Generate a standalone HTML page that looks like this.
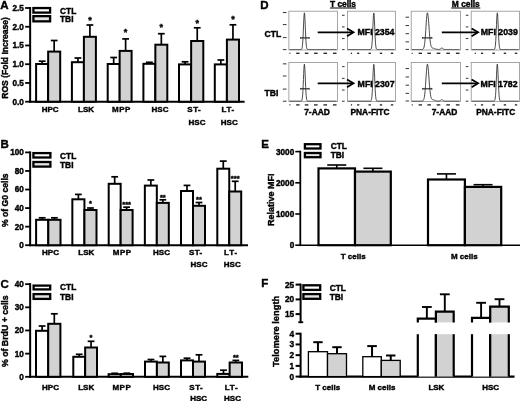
<!DOCTYPE html>
<html><head><meta charset="utf-8"><title>Figure</title>
<style>
html,body{margin:0;padding:0;background:#fff;}
svg{display:block;font-family:"Liberation Sans", sans-serif;}
</style></head><body>
<svg width="520" height="401" viewBox="0 0 520 401" style="font-family:'Liberation Sans',sans-serif;fill:#000">
<defs><filter id="soft" x="0" y="0" width="520" height="401" filterUnits="userSpaceOnUse"><feGaussianBlur stdDeviation="0.4"/></filter></defs>
<rect x="0" y="0" width="520" height="401" fill="#ffffff"/>
<g filter="url(#soft)">
<text x="0.30" y="8.60" font-size="11.5" text-anchor="start" font-weight="bold" stroke="#000" stroke-width="0.4" >A</text>
<line x1="30.15" y1="7.00" x2="30.15" y2="102.70" stroke="#000" stroke-width="2.0" stroke-linecap="butt"/>
<line x1="25.15" y1="101.70" x2="30.15" y2="101.70" stroke="#000" stroke-width="1.8" stroke-linecap="butt"/>
<text x="23.80" y="104.65" font-size="8.2" text-anchor="end" font-weight="bold" stroke="#000" stroke-width="0.4" >0.0</text>
<line x1="25.15" y1="82.96" x2="30.15" y2="82.96" stroke="#000" stroke-width="1.8" stroke-linecap="butt"/>
<text x="23.80" y="85.91" font-size="8.2" text-anchor="end" font-weight="bold" stroke="#000" stroke-width="0.4" >0.5</text>
<line x1="25.15" y1="64.22" x2="30.15" y2="64.22" stroke="#000" stroke-width="1.8" stroke-linecap="butt"/>
<text x="23.80" y="67.17" font-size="8.2" text-anchor="end" font-weight="bold" stroke="#000" stroke-width="0.4" >1.0</text>
<line x1="25.15" y1="45.48" x2="30.15" y2="45.48" stroke="#000" stroke-width="1.8" stroke-linecap="butt"/>
<text x="23.80" y="48.43" font-size="8.2" text-anchor="end" font-weight="bold" stroke="#000" stroke-width="0.4" >1.5</text>
<line x1="25.15" y1="26.74" x2="30.15" y2="26.74" stroke="#000" stroke-width="1.8" stroke-linecap="butt"/>
<text x="23.80" y="29.69" font-size="8.2" text-anchor="end" font-weight="bold" stroke="#000" stroke-width="0.4" >2.0</text>
<line x1="25.15" y1="8.00" x2="30.15" y2="8.00" stroke="#000" stroke-width="1.8" stroke-linecap="butt"/>
<text x="23.80" y="10.95" font-size="8.2" text-anchor="end" font-weight="bold" stroke="#000" stroke-width="0.4" >2.5</text>
<line x1="29.15" y1="101.70" x2="244.60" y2="101.70" stroke="#000" stroke-width="2.0" stroke-linecap="butt"/>
<text transform="translate(8.20,57.90) rotate(-90)" font-size="8.55" text-anchor="middle" font-weight="bold" stroke="#000" stroke-width="0.4">ROS (Fold Increase)</text>
<rect x="33.40" y="8.05" width="16.70" height="4.55" fill="#fff" stroke="#000" stroke-width="2.3"/>
<rect x="33.40" y="16.15" width="16.70" height="5.20" fill="#e4e4e4" stroke="#000" stroke-width="2.3"/>
<text x="60.00" y="13.60" font-size="8.4" text-anchor="start" font-weight="bold" stroke="#000" stroke-width="0.4" >CTL</text>
<text x="60.00" y="22.30" font-size="8.4" text-anchor="start" font-weight="bold" stroke="#000" stroke-width="0.4" >TBI</text>
<line x1="42.12" y1="64.00" x2="42.12" y2="61.20" stroke="#000" stroke-width="1.7" stroke-linecap="butt"/>
<line x1="38.73" y1="61.20" x2="45.52" y2="61.20" stroke="#000" stroke-width="1.7" stroke-linecap="butt"/>
<rect x="36.10" y="64.00" width="12.05" height="37.70" fill="#fff" stroke="#000" stroke-width="2.0"/>
<line x1="54.18" y1="51.60" x2="54.18" y2="40.50" stroke="#000" stroke-width="1.7" stroke-linecap="butt"/>
<line x1="50.78" y1="40.50" x2="57.58" y2="40.50" stroke="#000" stroke-width="1.7" stroke-linecap="butt"/>
<rect x="48.15" y="51.60" width="12.05" height="50.10" fill="#d2d2d2" stroke="#000" stroke-width="2.0"/>
<line x1="77.90" y1="62.20" x2="77.90" y2="58.00" stroke="#000" stroke-width="1.7" stroke-linecap="butt"/>
<line x1="74.50" y1="58.00" x2="81.30" y2="58.00" stroke="#000" stroke-width="1.7" stroke-linecap="butt"/>
<rect x="71.90" y="62.20" width="12.00" height="39.50" fill="#fff" stroke="#000" stroke-width="2.0"/>
<line x1="89.90" y1="36.80" x2="89.90" y2="25.00" stroke="#000" stroke-width="1.7" stroke-linecap="butt"/>
<line x1="86.50" y1="25.00" x2="93.30" y2="25.00" stroke="#000" stroke-width="1.7" stroke-linecap="butt"/>
<rect x="83.90" y="36.80" width="12.00" height="64.90" fill="#d2d2d2" stroke="#000" stroke-width="2.0"/>
<text x="89.90" y="23.10" font-size="9" text-anchor="middle" font-weight="bold" stroke="#000" stroke-width="0.4" >*</text>
<line x1="113.68" y1="64.00" x2="113.68" y2="57.50" stroke="#000" stroke-width="1.7" stroke-linecap="butt"/>
<line x1="110.28" y1="57.50" x2="117.08" y2="57.50" stroke="#000" stroke-width="1.7" stroke-linecap="butt"/>
<rect x="107.70" y="64.00" width="11.95" height="37.70" fill="#fff" stroke="#000" stroke-width="2.0"/>
<line x1="125.62" y1="50.90" x2="125.62" y2="38.90" stroke="#000" stroke-width="1.7" stroke-linecap="butt"/>
<line x1="122.22" y1="38.90" x2="129.03" y2="38.90" stroke="#000" stroke-width="1.7" stroke-linecap="butt"/>
<rect x="119.65" y="50.90" width="11.95" height="50.80" fill="#d2d2d2" stroke="#000" stroke-width="2.0"/>
<text x="125.62" y="35.10" font-size="9" text-anchor="middle" font-weight="bold" stroke="#000" stroke-width="0.4" >*</text>
<line x1="149.38" y1="63.80" x2="149.38" y2="62.30" stroke="#000" stroke-width="1.7" stroke-linecap="butt"/>
<line x1="145.97" y1="62.30" x2="152.78" y2="62.30" stroke="#000" stroke-width="1.7" stroke-linecap="butt"/>
<rect x="143.40" y="63.80" width="11.95" height="37.90" fill="#fff" stroke="#000" stroke-width="2.0"/>
<line x1="161.33" y1="44.70" x2="161.33" y2="33.70" stroke="#000" stroke-width="1.7" stroke-linecap="butt"/>
<line x1="157.93" y1="33.70" x2="164.73" y2="33.70" stroke="#000" stroke-width="1.7" stroke-linecap="butt"/>
<rect x="155.35" y="44.70" width="11.95" height="57.00" fill="#d2d2d2" stroke="#000" stroke-width="2.0"/>
<text x="161.33" y="30.10" font-size="9" text-anchor="middle" font-weight="bold" stroke="#000" stroke-width="0.4" >*</text>
<line x1="185.07" y1="64.40" x2="185.07" y2="61.80" stroke="#000" stroke-width="1.7" stroke-linecap="butt"/>
<line x1="181.67" y1="61.80" x2="188.47" y2="61.80" stroke="#000" stroke-width="1.7" stroke-linecap="butt"/>
<rect x="179.00" y="64.40" width="12.15" height="37.30" fill="#fff" stroke="#000" stroke-width="2.0"/>
<line x1="197.23" y1="41.00" x2="197.23" y2="27.80" stroke="#000" stroke-width="1.7" stroke-linecap="butt"/>
<line x1="193.83" y1="27.80" x2="200.63" y2="27.80" stroke="#000" stroke-width="1.7" stroke-linecap="butt"/>
<rect x="191.15" y="41.00" width="12.15" height="60.70" fill="#d2d2d2" stroke="#000" stroke-width="2.0"/>
<text x="197.23" y="25.60" font-size="9" text-anchor="middle" font-weight="bold" stroke="#000" stroke-width="0.4" >*</text>
<line x1="220.85" y1="64.40" x2="220.85" y2="60.00" stroke="#000" stroke-width="1.7" stroke-linecap="butt"/>
<line x1="217.45" y1="60.00" x2="224.25" y2="60.00" stroke="#000" stroke-width="1.7" stroke-linecap="butt"/>
<rect x="214.80" y="64.40" width="12.10" height="37.30" fill="#fff" stroke="#000" stroke-width="2.0"/>
<line x1="232.95" y1="39.60" x2="232.95" y2="24.80" stroke="#000" stroke-width="1.7" stroke-linecap="butt"/>
<line x1="229.55" y1="24.80" x2="236.35" y2="24.80" stroke="#000" stroke-width="1.7" stroke-linecap="butt"/>
<rect x="226.90" y="39.60" width="12.10" height="62.10" fill="#d2d2d2" stroke="#000" stroke-width="2.0"/>
<text x="232.95" y="21.60" font-size="9" text-anchor="middle" font-weight="bold" stroke="#000" stroke-width="0.4" >*</text>
<text x="50.20" y="111.60" font-size="8.0" text-anchor="middle" font-weight="bold" stroke="#000" stroke-width="0.4" >HPC</text>
<text x="86.00" y="111.60" font-size="8.0" text-anchor="middle" font-weight="bold" stroke="#000" stroke-width="0.4" >LSK</text>
<text x="121.50" y="111.60" font-size="8.0" text-anchor="middle" font-weight="bold" stroke="#000" stroke-width="0.4" letter-spacing="0.55">MPP</text>
<text x="160.00" y="111.60" font-size="8.0" text-anchor="middle" font-weight="bold" stroke="#000" stroke-width="0.4" >HSC</text>
<text x="194.30" y="111.60" font-size="8.0" text-anchor="middle" font-weight="bold" stroke="#000" stroke-width="0.4" letter-spacing="0.5">ST-</text>
<text x="197.00" y="124.80" font-size="8.0" text-anchor="middle" font-weight="bold" stroke="#000" stroke-width="0.4" >HSC</text>
<text x="228.20" y="111.60" font-size="8.0" text-anchor="middle" font-weight="bold" stroke="#000" stroke-width="0.4" letter-spacing="0.7">LT-</text>
<text x="229.30" y="124.80" font-size="8.0" text-anchor="middle" font-weight="bold" stroke="#000" stroke-width="0.4" >HSC</text>
<text x="0.50" y="148.30" font-size="11.5" text-anchor="start" font-weight="bold" stroke="#000" stroke-width="0.4" >B</text>
<line x1="30.15" y1="151.40" x2="30.15" y2="246.20" stroke="#000" stroke-width="2.0" stroke-linecap="butt"/>
<line x1="25.15" y1="245.20" x2="30.15" y2="245.20" stroke="#000" stroke-width="1.8" stroke-linecap="butt"/>
<text x="23.80" y="248.15" font-size="8.2" text-anchor="end" font-weight="bold" stroke="#000" stroke-width="0.4" >0</text>
<line x1="25.15" y1="226.64" x2="30.15" y2="226.64" stroke="#000" stroke-width="1.8" stroke-linecap="butt"/>
<text x="23.80" y="229.59" font-size="8.2" text-anchor="end" font-weight="bold" stroke="#000" stroke-width="0.4" >20</text>
<line x1="25.15" y1="208.08" x2="30.15" y2="208.08" stroke="#000" stroke-width="1.8" stroke-linecap="butt"/>
<text x="23.80" y="211.03" font-size="8.2" text-anchor="end" font-weight="bold" stroke="#000" stroke-width="0.4" >40</text>
<line x1="25.15" y1="189.52" x2="30.15" y2="189.52" stroke="#000" stroke-width="1.8" stroke-linecap="butt"/>
<text x="23.80" y="192.47" font-size="8.2" text-anchor="end" font-weight="bold" stroke="#000" stroke-width="0.4" >60</text>
<line x1="25.15" y1="170.96" x2="30.15" y2="170.96" stroke="#000" stroke-width="1.8" stroke-linecap="butt"/>
<text x="23.80" y="173.91" font-size="8.2" text-anchor="end" font-weight="bold" stroke="#000" stroke-width="0.4" >80</text>
<line x1="25.15" y1="152.40" x2="30.15" y2="152.40" stroke="#000" stroke-width="1.8" stroke-linecap="butt"/>
<text x="23.80" y="155.35" font-size="8.2" text-anchor="end" font-weight="bold" stroke="#000" stroke-width="0.4" >100</text>
<line x1="29.15" y1="245.20" x2="248.00" y2="245.20" stroke="#000" stroke-width="2.0" stroke-linecap="butt"/>
<text transform="translate(8.30,200.20) rotate(-90)" font-size="8.6" text-anchor="middle" font-weight="bold" stroke="#000" stroke-width="0.4">% of G0 cells</text>
<rect x="33.40" y="153.10" width="17.00" height="4.40" fill="#fff" stroke="#000" stroke-width="2.3"/>
<rect x="33.40" y="162.00" width="17.00" height="4.60" fill="#e4e4e4" stroke="#000" stroke-width="2.3"/>
<text x="60.00" y="158.50" font-size="8.4" text-anchor="start" font-weight="bold" stroke="#000" stroke-width="0.4" >CTL</text>
<text x="60.00" y="167.55" font-size="8.4" text-anchor="start" font-weight="bold" stroke="#000" stroke-width="0.4" >TBI</text>
<line x1="42.20" y1="219.80" x2="42.20" y2="217.80" stroke="#000" stroke-width="1.7" stroke-linecap="butt"/>
<line x1="38.80" y1="217.80" x2="45.60" y2="217.80" stroke="#000" stroke-width="1.7" stroke-linecap="butt"/>
<rect x="36.10" y="219.80" width="12.20" height="25.40" fill="#fff" stroke="#000" stroke-width="2.0"/>
<line x1="54.40" y1="219.80" x2="54.40" y2="217.80" stroke="#000" stroke-width="1.7" stroke-linecap="butt"/>
<line x1="51.00" y1="217.80" x2="57.80" y2="217.80" stroke="#000" stroke-width="1.7" stroke-linecap="butt"/>
<rect x="48.30" y="219.80" width="12.20" height="25.40" fill="#d2d2d2" stroke="#000" stroke-width="2.0"/>
<line x1="78.39" y1="199.30" x2="78.39" y2="194.40" stroke="#000" stroke-width="1.7" stroke-linecap="butt"/>
<line x1="74.99" y1="194.40" x2="81.79" y2="194.40" stroke="#000" stroke-width="1.7" stroke-linecap="butt"/>
<rect x="72.35" y="199.30" width="12.08" height="45.90" fill="#fff" stroke="#000" stroke-width="2.0"/>
<line x1="90.46" y1="210.00" x2="90.46" y2="208.00" stroke="#000" stroke-width="1.7" stroke-linecap="butt"/>
<line x1="87.06" y1="208.00" x2="93.86" y2="208.00" stroke="#000" stroke-width="1.7" stroke-linecap="butt"/>
<rect x="84.42" y="210.00" width="12.08" height="35.20" fill="#d2d2d2" stroke="#000" stroke-width="2.0"/>
<text x="90.46" y="205.60" font-size="7.5" text-anchor="middle" font-weight="bold" stroke="#000" stroke-width="0.4" >*</text>
<line x1="114.68" y1="183.80" x2="114.68" y2="176.80" stroke="#000" stroke-width="1.7" stroke-linecap="butt"/>
<line x1="111.28" y1="176.80" x2="118.08" y2="176.80" stroke="#000" stroke-width="1.7" stroke-linecap="butt"/>
<rect x="108.70" y="183.80" width="11.95" height="61.40" fill="#fff" stroke="#000" stroke-width="2.0"/>
<line x1="126.62" y1="210.00" x2="126.62" y2="207.20" stroke="#000" stroke-width="1.7" stroke-linecap="butt"/>
<line x1="123.22" y1="207.20" x2="130.03" y2="207.20" stroke="#000" stroke-width="1.7" stroke-linecap="butt"/>
<rect x="120.65" y="210.00" width="11.95" height="35.20" fill="#d2d2d2" stroke="#000" stroke-width="2.0"/>
<text x="126.62" y="206.60" font-size="7.5" text-anchor="middle" font-weight="bold" stroke="#000" stroke-width="0.4" >***</text>
<line x1="150.84" y1="185.60" x2="150.84" y2="180.00" stroke="#000" stroke-width="1.7" stroke-linecap="butt"/>
<line x1="147.44" y1="180.00" x2="154.24" y2="180.00" stroke="#000" stroke-width="1.7" stroke-linecap="butt"/>
<rect x="144.85" y="185.60" width="11.97" height="59.60" fill="#fff" stroke="#000" stroke-width="2.0"/>
<line x1="162.81" y1="202.90" x2="162.81" y2="199.80" stroke="#000" stroke-width="1.7" stroke-linecap="butt"/>
<line x1="159.41" y1="199.80" x2="166.21" y2="199.80" stroke="#000" stroke-width="1.7" stroke-linecap="butt"/>
<rect x="156.82" y="202.90" width="11.98" height="42.30" fill="#d2d2d2" stroke="#000" stroke-width="2.0"/>
<text x="162.81" y="199.60" font-size="7.5" text-anchor="middle" font-weight="bold" stroke="#000" stroke-width="0.4" >**</text>
<line x1="187.00" y1="191.00" x2="187.00" y2="185.40" stroke="#000" stroke-width="1.7" stroke-linecap="butt"/>
<line x1="183.60" y1="185.40" x2="190.40" y2="185.40" stroke="#000" stroke-width="1.7" stroke-linecap="butt"/>
<rect x="181.00" y="191.00" width="12.00" height="54.20" fill="#fff" stroke="#000" stroke-width="2.0"/>
<line x1="199.00" y1="205.80" x2="199.00" y2="202.50" stroke="#000" stroke-width="1.7" stroke-linecap="butt"/>
<line x1="195.60" y1="202.50" x2="202.40" y2="202.50" stroke="#000" stroke-width="1.7" stroke-linecap="butt"/>
<rect x="193.00" y="205.80" width="12.00" height="39.40" fill="#d2d2d2" stroke="#000" stroke-width="2.0"/>
<text x="199.00" y="201.60" font-size="7.5" text-anchor="middle" font-weight="bold" stroke="#000" stroke-width="0.4" >**</text>
<line x1="223.28" y1="168.70" x2="223.28" y2="161.10" stroke="#000" stroke-width="1.7" stroke-linecap="butt"/>
<line x1="219.88" y1="161.10" x2="226.68" y2="161.10" stroke="#000" stroke-width="1.7" stroke-linecap="butt"/>
<rect x="217.30" y="168.70" width="11.95" height="76.50" fill="#fff" stroke="#000" stroke-width="2.0"/>
<line x1="235.22" y1="191.50" x2="235.22" y2="181.30" stroke="#000" stroke-width="1.7" stroke-linecap="butt"/>
<line x1="231.82" y1="181.30" x2="238.62" y2="181.30" stroke="#000" stroke-width="1.7" stroke-linecap="butt"/>
<rect x="229.25" y="191.50" width="11.95" height="53.70" fill="#d2d2d2" stroke="#000" stroke-width="2.0"/>
<text x="235.22" y="181.20" font-size="7.5" text-anchor="middle" font-weight="bold" stroke="#000" stroke-width="0.4" >***</text>
<text x="50.50" y="255.00" font-size="8.0" text-anchor="middle" font-weight="bold" stroke="#000" stroke-width="0.4" >HPC</text>
<text x="86.30" y="255.00" font-size="8.0" text-anchor="middle" font-weight="bold" stroke="#000" stroke-width="0.4" >LSK</text>
<text x="122.20" y="255.00" font-size="8.0" text-anchor="middle" font-weight="bold" stroke="#000" stroke-width="0.4" letter-spacing="0.55">MPP</text>
<text x="161.50" y="255.00" font-size="8.0" text-anchor="middle" font-weight="bold" stroke="#000" stroke-width="0.4" >HSC</text>
<text x="195.70" y="255.00" font-size="8.0" text-anchor="middle" font-weight="bold" stroke="#000" stroke-width="0.4" letter-spacing="0.3">ST-</text>
<text x="199.00" y="266.50" font-size="8.0" text-anchor="middle" font-weight="bold" stroke="#000" stroke-width="0.4" >HSC</text>
<text x="231.00" y="255.00" font-size="8.0" text-anchor="middle" font-weight="bold" stroke="#000" stroke-width="0.4" letter-spacing="0.8">LT-</text>
<text x="232.30" y="266.50" font-size="8.0" text-anchor="middle" font-weight="bold" stroke="#000" stroke-width="0.4" >HSC</text>
<text x="0.40" y="287.60" font-size="11.5" text-anchor="start" font-weight="bold" stroke="#000" stroke-width="0.4" >C</text>
<line x1="30.15" y1="283.16" x2="30.15" y2="377.80" stroke="#000" stroke-width="2.0" stroke-linecap="butt"/>
<line x1="25.15" y1="376.80" x2="30.15" y2="376.80" stroke="#000" stroke-width="1.8" stroke-linecap="butt"/>
<text x="23.80" y="379.75" font-size="8.2" text-anchor="end" font-weight="bold" stroke="#000" stroke-width="0.4" >0</text>
<line x1="25.15" y1="353.64" x2="30.15" y2="353.64" stroke="#000" stroke-width="1.8" stroke-linecap="butt"/>
<text x="23.80" y="356.59" font-size="8.2" text-anchor="end" font-weight="bold" stroke="#000" stroke-width="0.4" >10</text>
<line x1="25.15" y1="330.48" x2="30.15" y2="330.48" stroke="#000" stroke-width="1.8" stroke-linecap="butt"/>
<text x="23.80" y="333.43" font-size="8.2" text-anchor="end" font-weight="bold" stroke="#000" stroke-width="0.4" >20</text>
<line x1="25.15" y1="307.32" x2="30.15" y2="307.32" stroke="#000" stroke-width="1.8" stroke-linecap="butt"/>
<text x="23.80" y="310.27" font-size="8.2" text-anchor="end" font-weight="bold" stroke="#000" stroke-width="0.4" >30</text>
<line x1="25.15" y1="284.16" x2="30.15" y2="284.16" stroke="#000" stroke-width="1.8" stroke-linecap="butt"/>
<text x="23.80" y="287.11" font-size="8.2" text-anchor="end" font-weight="bold" stroke="#000" stroke-width="0.4" >40</text>
<line x1="29.15" y1="376.80" x2="248.30" y2="376.80" stroke="#000" stroke-width="2.0" stroke-linecap="butt"/>
<text transform="translate(8.30,331.20) rotate(-90)" font-size="8.75" text-anchor="middle" font-weight="bold" stroke="#000" stroke-width="0.4">% of BrdU + cells</text>
<rect x="33.60" y="285.60" width="16.60" height="3.80" fill="#fff" stroke="#000" stroke-width="2.3"/>
<rect x="33.60" y="294.10" width="16.60" height="4.80" fill="#e4e4e4" stroke="#000" stroke-width="2.3"/>
<text x="60.00" y="290.40" font-size="8.4" text-anchor="start" font-weight="bold" stroke="#000" stroke-width="0.4" >CTL</text>
<text x="60.00" y="299.85" font-size="8.4" text-anchor="start" font-weight="bold" stroke="#000" stroke-width="0.4" >TBI</text>
<line x1="42.10" y1="330.80" x2="42.10" y2="326.00" stroke="#000" stroke-width="1.7" stroke-linecap="butt"/>
<line x1="38.70" y1="326.00" x2="45.50" y2="326.00" stroke="#000" stroke-width="1.7" stroke-linecap="butt"/>
<rect x="36.00" y="330.80" width="12.20" height="46.00" fill="#fff" stroke="#000" stroke-width="2.0"/>
<line x1="54.30" y1="323.80" x2="54.30" y2="313.80" stroke="#000" stroke-width="1.7" stroke-linecap="butt"/>
<line x1="50.90" y1="313.80" x2="57.70" y2="313.80" stroke="#000" stroke-width="1.7" stroke-linecap="butt"/>
<rect x="48.20" y="323.80" width="12.20" height="53.00" fill="#d2d2d2" stroke="#000" stroke-width="2.0"/>
<line x1="79.22" y1="356.80" x2="79.22" y2="354.30" stroke="#000" stroke-width="1.7" stroke-linecap="butt"/>
<line x1="75.82" y1="354.30" x2="82.62" y2="354.30" stroke="#000" stroke-width="1.7" stroke-linecap="butt"/>
<rect x="73.30" y="356.80" width="11.85" height="20.00" fill="#fff" stroke="#000" stroke-width="2.0"/>
<line x1="91.08" y1="347.50" x2="91.08" y2="341.30" stroke="#000" stroke-width="1.7" stroke-linecap="butt"/>
<line x1="87.67" y1="341.30" x2="94.48" y2="341.30" stroke="#000" stroke-width="1.7" stroke-linecap="butt"/>
<rect x="85.15" y="347.50" width="11.85" height="29.30" fill="#d2d2d2" stroke="#000" stroke-width="2.0"/>
<text x="91.08" y="340.00" font-size="7.5" text-anchor="middle" font-weight="bold" stroke="#000" stroke-width="0.4" >*</text>
<line x1="114.70" y1="374.20" x2="114.70" y2="373.30" stroke="#000" stroke-width="1.7" stroke-linecap="butt"/>
<line x1="111.30" y1="373.30" x2="118.10" y2="373.30" stroke="#000" stroke-width="1.7" stroke-linecap="butt"/>
<rect x="108.60" y="374.20" width="12.20" height="2.60" fill="#fff" stroke="#000" stroke-width="2.0"/>
<line x1="126.90" y1="374.00" x2="126.90" y2="373.20" stroke="#000" stroke-width="1.7" stroke-linecap="butt"/>
<line x1="123.50" y1="373.20" x2="130.30" y2="373.20" stroke="#000" stroke-width="1.7" stroke-linecap="butt"/>
<rect x="120.80" y="374.00" width="12.20" height="2.80" fill="#d2d2d2" stroke="#000" stroke-width="2.0"/>
<line x1="150.95" y1="361.60" x2="150.95" y2="359.50" stroke="#000" stroke-width="1.7" stroke-linecap="butt"/>
<line x1="147.55" y1="359.50" x2="154.35" y2="359.50" stroke="#000" stroke-width="1.7" stroke-linecap="butt"/>
<rect x="145.00" y="361.60" width="11.90" height="15.20" fill="#fff" stroke="#000" stroke-width="2.0"/>
<line x1="162.85" y1="362.50" x2="162.85" y2="356.40" stroke="#000" stroke-width="1.7" stroke-linecap="butt"/>
<line x1="159.45" y1="356.40" x2="166.25" y2="356.40" stroke="#000" stroke-width="1.7" stroke-linecap="butt"/>
<rect x="156.90" y="362.50" width="11.90" height="14.30" fill="#d2d2d2" stroke="#000" stroke-width="2.0"/>
<line x1="187.00" y1="360.40" x2="187.00" y2="358.20" stroke="#000" stroke-width="1.7" stroke-linecap="butt"/>
<line x1="183.60" y1="358.20" x2="190.40" y2="358.20" stroke="#000" stroke-width="1.7" stroke-linecap="butt"/>
<rect x="181.00" y="360.40" width="12.00" height="16.40" fill="#fff" stroke="#000" stroke-width="2.0"/>
<line x1="199.00" y1="361.60" x2="199.00" y2="354.80" stroke="#000" stroke-width="1.7" stroke-linecap="butt"/>
<line x1="195.60" y1="354.80" x2="202.40" y2="354.80" stroke="#000" stroke-width="1.7" stroke-linecap="butt"/>
<rect x="193.00" y="361.60" width="12.00" height="15.20" fill="#d2d2d2" stroke="#000" stroke-width="2.0"/>
<line x1="223.48" y1="373.90" x2="223.48" y2="370.20" stroke="#000" stroke-width="1.7" stroke-linecap="butt"/>
<line x1="220.08" y1="370.20" x2="226.88" y2="370.20" stroke="#000" stroke-width="1.7" stroke-linecap="butt"/>
<rect x="217.30" y="373.90" width="12.35" height="2.90" fill="#fff" stroke="#000" stroke-width="2.0"/>
<line x1="235.82" y1="362.50" x2="235.82" y2="360.40" stroke="#000" stroke-width="1.7" stroke-linecap="butt"/>
<line x1="232.42" y1="360.40" x2="239.22" y2="360.40" stroke="#000" stroke-width="1.7" stroke-linecap="butt"/>
<rect x="229.65" y="362.50" width="12.35" height="14.30" fill="#d2d2d2" stroke="#000" stroke-width="2.0"/>
<text x="235.82" y="360.00" font-size="7.5" text-anchor="middle" font-weight="bold" stroke="#000" stroke-width="0.4" >**</text>
<text x="50.50" y="389.70" font-size="8.0" text-anchor="middle" font-weight="bold" stroke="#000" stroke-width="0.4" >HPC</text>
<text x="86.20" y="389.70" font-size="8.0" text-anchor="middle" font-weight="bold" stroke="#000" stroke-width="0.4" >LSK</text>
<text x="121.90" y="389.70" font-size="8.0" text-anchor="middle" font-weight="bold" stroke="#000" stroke-width="0.4" letter-spacing="0.55">MPP</text>
<text x="161.50" y="389.70" font-size="8.0" text-anchor="middle" font-weight="bold" stroke="#000" stroke-width="0.4" >HSC</text>
<text x="196.30" y="389.70" font-size="8.0" text-anchor="middle" font-weight="bold" stroke="#000" stroke-width="0.4" letter-spacing="0.5">ST-</text>
<text x="198.70" y="400.50" font-size="8.0" text-anchor="middle" font-weight="bold" stroke="#000" stroke-width="0.4" >HSC</text>
<text x="231.60" y="389.70" font-size="8.0" text-anchor="middle" font-weight="bold" stroke="#000" stroke-width="0.4" letter-spacing="0.8">LT-</text>
<text x="232.50" y="400.50" font-size="8.0" text-anchor="middle" font-weight="bold" stroke="#000" stroke-width="0.4" >HSC</text>
<text x="260.30" y="8.80" font-size="11.5" text-anchor="start" font-weight="bold" stroke="#000" stroke-width="0.4" >D</text>
<text x="343.00" y="6.80" font-size="8.4" text-anchor="middle" font-weight="bold" stroke="#000" stroke-width="0.4" >T cells</text>
<line x1="330.00" y1="8.00" x2="356.00" y2="8.00" stroke="#000" stroke-width="1.0" stroke-linecap="butt"/>
<text x="465.80" y="6.80" font-size="8.4" text-anchor="middle" font-weight="bold" stroke="#000" stroke-width="0.4" >M cells</text>
<line x1="451.20" y1="8.00" x2="480.30" y2="8.00" stroke="#000" stroke-width="1.0" stroke-linecap="butt"/>
<text x="264.50" y="36.80" font-size="8.6" text-anchor="start" font-weight="bold" stroke="#000" stroke-width="0.4" >CTL</text>
<text x="264.50" y="96.00" font-size="8.6" text-anchor="start" font-weight="bold" stroke="#000" stroke-width="0.4" >TBI</text>
<rect x="288.90" y="11.20" width="48.50" height="38.80" fill="#fff" stroke="#909090" stroke-width="0.8"/>
<polyline points="289.70,49.50 289.95,49.50 290.20,49.50 290.45,49.50 290.70,49.50 290.95,49.50 291.20,49.50 291.45,49.50 291.70,49.50 291.95,49.50 292.20,49.50 292.45,49.50 292.70,49.50 292.95,49.50 293.20,49.50 293.45,49.50 293.70,49.50 293.95,49.50 294.20,49.50 294.45,49.50 294.70,49.50 294.95,49.50 295.20,49.50 295.45,49.50 295.70,49.50 295.95,49.50 296.20,49.50 296.45,49.50 296.70,49.50 296.95,49.50 297.20,49.50 297.45,49.50 297.70,49.50 297.95,49.50 298.20,49.50 298.45,49.50 298.70,49.50 298.95,49.50 299.20,49.50 299.45,49.50 299.70,49.50 299.95,49.50 300.20,49.50 300.45,49.50 300.70,49.49 300.95,49.47 301.20,49.41 301.45,49.29 301.70,49.01 301.95,48.44 302.20,47.40 302.45,45.62 302.70,42.84 302.95,38.90 303.20,33.82 303.45,27.97 303.70,22.02 303.95,16.94 304.20,13.66 304.45,12.85 304.70,14.70 304.95,18.81 305.20,24.35 305.45,30.37 305.70,35.98 305.95,40.62 306.20,44.09 306.45,46.43 306.70,47.89 306.95,48.71 307.20,49.14 307.45,49.35 307.70,49.44 307.95,49.48 308.20,49.49 308.45,49.50 308.70,49.50 308.95,49.50 309.20,49.50 309.45,49.50 309.70,49.50 309.95,49.50 310.20,49.50 310.45,49.50 310.70,49.50 310.95,49.50 311.20,49.50 311.45,49.50 311.70,49.50 311.95,49.50 312.20,49.50 312.45,49.50 312.70,49.50 312.95,49.50 313.20,49.50 313.45,49.50 313.70,49.50 313.95,49.50 314.20,49.50 314.45,49.50 314.70,49.50 314.95,49.50 315.20,49.50 315.45,49.50 315.70,49.50 315.95,49.50 316.20,49.50 316.45,49.50 316.70,49.50 316.95,49.50 317.20,49.50 317.45,49.50 317.70,49.50 317.95,49.50 318.20,49.50 318.45,49.50 318.70,49.50 318.95,49.50 319.20,49.50 319.45,49.50 319.70,49.50 319.95,49.50 320.20,49.50 320.45,49.50 320.70,49.50 320.95,49.50 321.20,49.50 321.45,49.50 321.70,49.50 321.95,49.50 322.20,49.50 322.45,49.50 322.70,49.50 322.95,49.50 323.20,49.50 323.45,49.50 323.70,49.50 323.95,49.50 324.20,49.50 324.45,49.50 324.70,49.50 324.95,49.50 325.20,49.50 325.45,49.50 325.70,49.50 325.95,49.50 326.20,49.50 326.45,49.50 326.70,49.50 326.95,49.50 327.20,49.50 327.45,49.50 327.70,49.50 327.95,49.50 328.20,49.50 328.45,49.50 328.70,49.50 328.95,49.50 329.20,49.50 329.45,49.50 329.70,49.50 329.95,49.50 330.20,49.50 330.45,49.50 330.70,49.50 330.95,49.50 331.20,49.50 331.45,49.50 331.70,49.50 331.95,49.50 332.20,49.50 332.45,49.50 332.70,49.50 332.95,49.50 333.20,49.50 333.45,49.50 333.70,49.50 333.95,49.50 334.20,49.50 334.45,49.50 334.70,49.50 334.95,49.50 335.20,49.50 335.45,49.50 335.70,49.50 335.95,49.50 336.20,49.50 336.45,49.50" fill="none" stroke="#2a2a2a" stroke-width="0.85" stroke-linejoin="round"/>
<line x1="300.60" y1="37.90" x2="309.20" y2="37.90" stroke="#1a1a1a" stroke-width="1.1" stroke-linecap="butt"/>
<line x1="300.60" y1="37.00" x2="300.60" y2="38.80" stroke="#1a1a1a" stroke-width="0.8" stroke-linecap="butt"/>
<line x1="309.20" y1="37.00" x2="309.20" y2="38.80" stroke="#1a1a1a" stroke-width="0.8" stroke-linecap="butt"/>
<line x1="282.90" y1="12.56" x2="286.50" y2="12.56" stroke="#2a2a2a" stroke-width="0.95" stroke-linecap="butt"/>
<line x1="282.90" y1="24.59" x2="286.50" y2="24.59" stroke="#2a2a2a" stroke-width="0.95" stroke-linecap="butt"/>
<line x1="282.90" y1="37.58" x2="286.50" y2="37.58" stroke="#2a2a2a" stroke-width="0.95" stroke-linecap="butt"/>
<line x1="282.90" y1="49.61" x2="286.50" y2="49.61" stroke="#2a2a2a" stroke-width="0.95" stroke-linecap="butt"/>
<line x1="289.37" y1="53.30" x2="290.37" y2="53.30" stroke="#2a2a2a" stroke-width="1.35" stroke-linecap="butt"/>
<line x1="296.17" y1="53.30" x2="299.57" y2="53.30" stroke="#2a2a2a" stroke-width="1.35" stroke-linecap="butt"/>
<line x1="304.80" y1="53.30" x2="308.40" y2="53.30" stroke="#2a2a2a" stroke-width="1.35" stroke-linecap="butt"/>
<line x1="314.02" y1="53.30" x2="317.62" y2="53.30" stroke="#2a2a2a" stroke-width="1.35" stroke-linecap="butt"/>
<line x1="323.47" y1="53.30" x2="327.07" y2="53.30" stroke="#2a2a2a" stroke-width="1.35" stroke-linecap="butt"/>
<line x1="332.93" y1="53.30" x2="336.53" y2="53.30" stroke="#2a2a2a" stroke-width="1.35" stroke-linecap="butt"/>
<rect x="347.40" y="11.20" width="48.00" height="38.80" fill="#fff" stroke="#909090" stroke-width="0.8"/>
<polyline points="348.20,49.50 348.45,49.50 348.70,49.50 348.95,49.50 349.20,49.50 349.45,49.50 349.70,49.50 349.95,49.50 350.20,49.50 350.45,49.50 350.70,49.50 350.95,49.50 351.20,49.50 351.45,49.50 351.70,49.50 351.95,49.50 352.20,49.50 352.45,49.50 352.70,49.50 352.95,49.50 353.20,49.50 353.45,49.50 353.70,49.50 353.95,49.50 354.20,49.50 354.45,49.50 354.70,49.50 354.95,49.50 355.20,49.50 355.45,49.50 355.70,49.50 355.95,49.50 356.20,49.50 356.45,49.50 356.70,49.50 356.95,49.50 357.20,49.50 357.45,49.50 357.70,49.50 357.95,49.50 358.20,49.50 358.45,49.50 358.70,49.50 358.95,49.50 359.20,49.50 359.45,49.50 359.70,49.50 359.95,49.50 360.20,49.50 360.45,49.50 360.70,49.50 360.95,49.50 361.20,49.50 361.45,49.50 361.70,49.50 361.95,49.50 362.20,49.50 362.45,49.50 362.70,49.50 362.95,49.50 363.20,49.50 363.45,49.50 363.70,49.50 363.95,49.50 364.20,49.50 364.45,49.50 364.70,49.50 364.95,49.50 365.20,49.50 365.45,49.50 365.70,49.50 365.95,49.50 366.20,49.50 366.45,49.50 366.70,49.50 366.95,49.50 367.20,49.50 367.45,49.50 367.70,49.50 367.95,49.50 368.20,49.50 368.45,49.50 368.70,49.50 368.95,49.50 369.20,49.50 369.45,49.50 369.70,49.50 369.95,49.49 370.20,49.48 370.45,49.45 370.70,49.37 370.95,49.20 371.20,48.82 371.45,48.09 371.70,46.79 371.95,44.64 372.20,41.41 372.45,36.99 372.70,31.54 372.95,25.55 373.20,19.83 373.45,15.36 373.70,13.02 373.95,13.28 374.20,16.11 374.45,20.91 374.70,26.76 374.95,32.70 375.20,37.97 375.45,42.15 375.70,45.15 375.95,47.11 376.20,48.28 376.45,48.92 376.70,49.24 376.95,49.40 377.20,49.46 377.45,49.49 377.70,49.50 377.95,49.50 378.20,49.50 378.45,49.50 378.70,49.50 378.95,49.50 379.20,49.50 379.45,49.50 379.70,49.50 379.95,49.50 380.20,49.50 380.45,49.50 380.70,49.50 380.95,49.50 381.20,49.50 381.45,49.50 381.70,49.50 381.95,49.50 382.20,49.50 382.45,49.50 382.70,49.50 382.95,49.50 383.20,49.50 383.45,49.50 383.70,49.50 383.95,49.50 384.20,49.50 384.45,49.50 384.70,49.50 384.95,49.50 385.20,49.50 385.45,49.50 385.70,49.50 385.95,49.50 386.20,49.50 386.45,49.50 386.70,49.50 386.95,49.50 387.20,49.50 387.45,49.50 387.70,49.50 387.95,49.50 388.20,49.50 388.45,49.50 388.70,49.50 388.95,49.50 389.20,49.50 389.45,49.50 389.70,49.50 389.95,49.50 390.20,49.50 390.45,49.50 390.70,49.50 390.95,49.50 391.20,49.50 391.45,49.50 391.70,49.50 391.95,49.50 392.20,49.50 392.45,49.50 392.70,49.50 392.95,49.50 393.20,49.50 393.45,49.50 393.70,49.50 393.95,49.50 394.20,49.50 394.45,49.50" fill="none" stroke="#2a2a2a" stroke-width="0.85" stroke-linejoin="round"/>
<line x1="342.00" y1="15.27" x2="344.60" y2="15.27" stroke="#2a2a2a" stroke-width="0.95" stroke-linecap="butt"/>
<line x1="342.00" y1="26.91" x2="344.60" y2="26.91" stroke="#2a2a2a" stroke-width="0.95" stroke-linecap="butt"/>
<line x1="342.00" y1="38.55" x2="344.60" y2="38.55" stroke="#2a2a2a" stroke-width="0.95" stroke-linecap="butt"/>
<line x1="342.00" y1="49.61" x2="344.60" y2="49.61" stroke="#2a2a2a" stroke-width="0.95" stroke-linecap="butt"/>
<line x1="350.88" y1="53.30" x2="352.08" y2="53.30" stroke="#2a2a2a" stroke-width="1.35" stroke-linecap="butt"/>
<line x1="357.10" y1="53.30" x2="359.30" y2="53.30" stroke="#2a2a2a" stroke-width="1.35" stroke-linecap="butt"/>
<line x1="368.52" y1="53.30" x2="370.92" y2="53.30" stroke="#2a2a2a" stroke-width="1.35" stroke-linecap="butt"/>
<line x1="379.80" y1="53.30" x2="382.20" y2="53.30" stroke="#2a2a2a" stroke-width="1.35" stroke-linecap="butt"/>
<line x1="390.84" y1="53.30" x2="393.24" y2="53.30" stroke="#2a2a2a" stroke-width="1.35" stroke-linecap="butt"/>
<rect x="411.20" y="11.20" width="49.20" height="38.80" fill="#fff" stroke="#909090" stroke-width="0.8"/>
<polyline points="412.00,49.50 412.25,49.50 412.50,49.50 412.75,49.50 413.00,49.50 413.25,49.50 413.50,49.50 413.75,49.50 414.00,49.50 414.25,49.50 414.50,49.50 414.75,49.50 415.00,49.50 415.25,49.50 415.50,49.50 415.75,49.50 416.00,49.50 416.25,49.50 416.50,49.50 416.75,49.50 417.00,49.50 417.25,49.50 417.50,49.50 417.75,49.50 418.00,49.50 418.25,49.50 418.50,49.50 418.75,49.50 419.00,49.50 419.25,49.50 419.50,49.50 419.75,49.50 420.00,49.50 420.25,49.50 420.50,49.50 420.75,49.50 421.00,49.50 421.25,49.50 421.50,49.49 421.75,49.48 422.00,49.46 422.25,49.43 422.50,49.38 422.75,49.29 423.00,49.13 423.25,48.89 423.50,48.51 423.75,47.96 424.00,47.15 424.25,46.03 424.50,44.53 424.75,42.59 425.00,40.17 425.25,37.27 425.50,33.95 425.75,30.29 426.00,26.47 426.25,22.70 426.50,19.22 426.75,16.30 427.00,14.15 427.25,12.97 427.50,12.84 427.75,13.62 428.00,15.23 428.25,17.54 428.50,20.41 428.75,23.64 429.00,27.05 429.25,30.45 429.50,33.69 429.75,36.65 430.00,39.25 430.25,41.46 430.50,43.26 430.75,44.68 431.00,45.76 431.25,46.56 431.50,47.12 431.75,47.50 432.00,47.75 432.25,47.91 432.50,48.01 432.75,48.08 433.00,48.14 433.25,48.19 433.50,48.25 433.75,48.31 434.00,48.39 434.25,48.47 434.50,48.57 434.75,48.66 435.00,48.76 435.25,48.86 435.50,48.95 435.75,49.03 436.00,49.11 436.25,49.18 436.50,49.25 436.75,49.30 437.00,49.34 437.25,49.38 437.50,49.41 437.75,49.43 438.00,49.45 438.25,49.46 438.50,49.46 438.75,49.45 439.00,49.43 439.25,49.39 439.50,49.33 439.75,49.24 440.00,49.11 440.25,48.95 440.50,48.77 440.75,48.57 441.00,48.37 441.25,48.20 441.50,48.09 441.75,48.03 442.00,48.06 442.25,48.15 442.50,48.30 442.75,48.49 443.00,48.69 443.25,48.88 443.50,49.06 443.75,49.19 444.00,49.30 444.25,49.38 444.50,49.43 444.75,49.46 445.00,49.48 445.25,49.49 445.50,49.49 445.75,49.50 446.00,49.50 446.25,49.50 446.50,49.50 446.75,49.50 447.00,49.50 447.25,49.50 447.50,49.50 447.75,49.50 448.00,49.50 448.25,49.50 448.50,49.50 448.75,49.50 449.00,49.50 449.25,49.50 449.50,49.50 449.75,49.50 450.00,49.50 450.25,49.50 450.50,49.50 450.75,49.50 451.00,49.50 451.25,49.50 451.50,49.50 451.75,49.50 452.00,49.50 452.25,49.50 452.50,49.50 452.75,49.50 453.00,49.50 453.25,49.50 453.50,49.50 453.75,49.50 454.00,49.50 454.25,49.50 454.50,49.50 454.75,49.50 455.00,49.50 455.25,49.50 455.50,49.50 455.75,49.50 456.00,49.50 456.25,49.50 456.50,49.50 456.75,49.50 457.00,49.50 457.25,49.50 457.50,49.50 457.75,49.50 458.00,49.50 458.25,49.50 458.50,49.50 458.75,49.50 459.00,49.50 459.25,49.50 459.50,49.50" fill="none" stroke="#2a2a2a" stroke-width="0.85" stroke-linejoin="round"/>
<line x1="422.60" y1="37.90" x2="431.90" y2="37.90" stroke="#1a1a1a" stroke-width="1.1" stroke-linecap="butt"/>
<line x1="422.60" y1="37.00" x2="422.60" y2="38.80" stroke="#1a1a1a" stroke-width="0.8" stroke-linecap="butt"/>
<line x1="431.90" y1="37.00" x2="431.90" y2="38.80" stroke="#1a1a1a" stroke-width="0.8" stroke-linecap="butt"/>
<line x1="405.60" y1="17.21" x2="409.00" y2="17.21" stroke="#2a2a2a" stroke-width="0.95" stroke-linecap="butt"/>
<line x1="405.60" y1="25.56" x2="409.00" y2="25.56" stroke="#2a2a2a" stroke-width="0.95" stroke-linecap="butt"/>
<line x1="405.60" y1="33.70" x2="409.00" y2="33.70" stroke="#2a2a2a" stroke-width="0.95" stroke-linecap="butt"/>
<line x1="405.60" y1="41.85" x2="409.00" y2="41.85" stroke="#2a2a2a" stroke-width="0.95" stroke-linecap="butt"/>
<line x1="405.60" y1="49.42" x2="409.00" y2="49.42" stroke="#2a2a2a" stroke-width="0.95" stroke-linecap="butt"/>
<line x1="411.68" y1="53.30" x2="412.68" y2="53.30" stroke="#2a2a2a" stroke-width="1.35" stroke-linecap="butt"/>
<line x1="418.60" y1="53.30" x2="422.00" y2="53.30" stroke="#2a2a2a" stroke-width="1.35" stroke-linecap="butt"/>
<line x1="427.36" y1="53.30" x2="430.96" y2="53.30" stroke="#2a2a2a" stroke-width="1.35" stroke-linecap="butt"/>
<line x1="436.71" y1="53.30" x2="440.31" y2="53.30" stroke="#2a2a2a" stroke-width="1.35" stroke-linecap="butt"/>
<line x1="446.30" y1="53.30" x2="449.90" y2="53.30" stroke="#2a2a2a" stroke-width="1.35" stroke-linecap="butt"/>
<line x1="455.89" y1="53.30" x2="459.49" y2="53.30" stroke="#2a2a2a" stroke-width="1.35" stroke-linecap="butt"/>
<rect x="471.20" y="11.20" width="48.20" height="38.80" fill="#fff" stroke="#909090" stroke-width="0.8"/>
<polyline points="472.00,49.50 472.25,49.50 472.50,49.50 472.75,49.50 473.00,49.50 473.25,49.50 473.50,49.50 473.75,49.50 474.00,49.50 474.25,49.50 474.50,49.50 474.75,49.50 475.00,49.50 475.25,49.50 475.50,49.50 475.75,49.50 476.00,49.50 476.25,49.50 476.50,49.50 476.75,49.50 477.00,49.50 477.25,49.50 477.50,49.50 477.75,49.50 478.00,49.50 478.25,49.50 478.50,49.50 478.75,49.50 479.00,49.50 479.25,49.50 479.50,49.50 479.75,49.50 480.00,49.50 480.25,49.50 480.50,49.50 480.75,49.50 481.00,49.50 481.25,49.50 481.50,49.50 481.75,49.50 482.00,49.50 482.25,49.50 482.50,49.50 482.75,49.50 483.00,49.50 483.25,49.50 483.50,49.50 483.75,49.50 484.00,49.50 484.25,49.50 484.50,49.50 484.75,49.50 485.00,49.50 485.25,49.50 485.50,49.50 485.75,49.50 486.00,49.50 486.25,49.50 486.50,49.50 486.75,49.50 487.00,49.50 487.25,49.50 487.50,49.50 487.75,49.50 488.00,49.50 488.25,49.50 488.50,49.50 488.75,49.50 489.00,49.50 489.25,49.50 489.50,49.50 489.75,49.50 490.00,49.50 490.25,49.50 490.50,49.50 490.75,49.50 491.00,49.50 491.25,49.50 491.50,49.50 491.75,49.50 492.00,49.50 492.25,49.50 492.50,49.50 492.75,49.50 493.00,49.50 493.25,49.50 493.50,49.49 493.75,49.48 494.00,49.44 494.25,49.35 494.50,49.14 494.75,48.71 495.00,47.89 495.25,46.43 495.50,44.09 495.75,40.62 496.00,35.98 496.25,30.37 496.50,24.35 496.75,18.81 497.00,14.70 497.25,12.85 497.50,13.66 497.75,16.94 498.00,22.02 498.25,27.97 498.50,33.82 498.75,38.90 499.00,42.84 499.25,45.62 499.50,47.40 499.75,48.44 500.00,49.01 500.25,49.29 500.50,49.41 500.75,49.47 501.00,49.49 501.25,49.50 501.50,49.50 501.75,49.50 502.00,49.50 502.25,49.50 502.50,49.50 502.75,49.50 503.00,49.50 503.25,49.50 503.50,49.50 503.75,49.50 504.00,49.50 504.25,49.50 504.50,49.50 504.75,49.50 505.00,49.50 505.25,49.50 505.50,49.50 505.75,49.50 506.00,49.50 506.25,49.50 506.50,49.50 506.75,49.50 507.00,49.50 507.25,49.50 507.50,49.50 507.75,49.50 508.00,49.50 508.25,49.50 508.50,49.50 508.75,49.50 509.00,49.50 509.25,49.50 509.50,49.50 509.75,49.50 510.00,49.50 510.25,49.50 510.50,49.50 510.75,49.50 511.00,49.50 511.25,49.50 511.50,49.50 511.75,49.50 512.00,49.50 512.25,49.50 512.50,49.50 512.75,49.50 513.00,49.50 513.25,49.50 513.50,49.50 513.75,49.50 514.00,49.50 514.25,49.50 514.50,49.50 514.75,49.50 515.00,49.50 515.25,49.50 515.50,49.50 515.75,49.50 516.00,49.50 516.25,49.50 516.50,49.50 516.75,49.50 517.00,49.50 517.25,49.50 517.50,49.50 517.75,49.50 518.00,49.50 518.25,49.50 518.50,49.50" fill="none" stroke="#2a2a2a" stroke-width="0.85" stroke-linejoin="round"/>
<line x1="465.80" y1="15.27" x2="468.40" y2="15.27" stroke="#2a2a2a" stroke-width="0.95" stroke-linecap="butt"/>
<line x1="465.80" y1="26.91" x2="468.40" y2="26.91" stroke="#2a2a2a" stroke-width="0.95" stroke-linecap="butt"/>
<line x1="465.80" y1="38.55" x2="468.40" y2="38.55" stroke="#2a2a2a" stroke-width="0.95" stroke-linecap="butt"/>
<line x1="465.80" y1="49.61" x2="468.40" y2="49.61" stroke="#2a2a2a" stroke-width="0.95" stroke-linecap="butt"/>
<line x1="474.70" y1="53.30" x2="475.90" y2="53.30" stroke="#2a2a2a" stroke-width="1.35" stroke-linecap="butt"/>
<line x1="480.94" y1="53.30" x2="483.14" y2="53.30" stroke="#2a2a2a" stroke-width="1.35" stroke-linecap="butt"/>
<line x1="492.41" y1="53.30" x2="494.81" y2="53.30" stroke="#2a2a2a" stroke-width="1.35" stroke-linecap="butt"/>
<line x1="503.74" y1="53.30" x2="506.14" y2="53.30" stroke="#2a2a2a" stroke-width="1.35" stroke-linecap="butt"/>
<line x1="514.83" y1="53.30" x2="517.23" y2="53.30" stroke="#2a2a2a" stroke-width="1.35" stroke-linecap="butt"/>
<line x1="317.70" y1="32.30" x2="352.40" y2="32.30" stroke="#000" stroke-width="1.75" stroke-linecap="butt"/>
<path d="M347.00,28.40 L353.60,32.30 L347.00,36.20" fill="none" stroke="#000" stroke-width="1.7" stroke-linejoin="miter"/>
<line x1="441.80" y1="32.30" x2="477.00" y2="32.30" stroke="#000" stroke-width="1.75" stroke-linecap="butt"/>
<path d="M471.60,28.40 L478.20,32.30 L471.60,36.20" fill="none" stroke="#000" stroke-width="1.7" stroke-linejoin="miter"/>
<rect x="288.90" y="62.50" width="48.50" height="39.10" fill="#fff" stroke="#909090" stroke-width="0.8"/>
<polyline points="289.70,101.10 289.95,101.10 290.20,101.10 290.45,101.10 290.70,101.10 290.95,101.10 291.20,101.10 291.45,101.10 291.70,101.10 291.95,101.10 292.20,101.10 292.45,101.10 292.70,101.10 292.95,101.10 293.20,101.10 293.45,101.10 293.70,101.10 293.95,101.10 294.20,101.10 294.45,101.10 294.70,101.10 294.95,101.10 295.20,101.10 295.45,101.10 295.70,101.10 295.95,101.10 296.20,101.10 296.45,101.10 296.70,101.10 296.95,101.10 297.20,101.10 297.45,101.10 297.70,101.10 297.95,101.10 298.20,101.10 298.45,101.10 298.70,101.10 298.95,101.10 299.20,101.10 299.45,101.10 299.70,101.10 299.95,101.10 300.20,101.10 300.45,101.10 300.70,101.09 300.95,101.07 301.20,101.01 301.45,100.88 301.70,100.60 301.95,100.03 302.20,98.98 302.45,97.19 302.70,94.39 302.95,90.41 303.20,85.30 303.45,79.39 303.70,73.40 303.95,68.27 304.20,64.96 304.45,64.15 304.70,66.02 304.95,70.15 305.20,75.75 305.45,81.81 305.70,87.47 305.95,92.15 306.20,95.64 306.45,98.01 306.70,99.47 306.95,100.31 307.20,100.74 307.45,100.95 307.70,101.04 307.95,101.08 308.20,101.09 308.45,101.10 308.70,101.10 308.95,101.10 309.20,101.10 309.45,101.10 309.70,101.10 309.95,101.10 310.20,101.10 310.45,101.10 310.70,101.10 310.95,101.10 311.20,101.10 311.45,101.10 311.70,101.10 311.95,101.10 312.20,101.10 312.45,101.10 312.70,101.10 312.95,101.10 313.20,101.10 313.45,101.10 313.70,101.10 313.95,101.10 314.20,101.10 314.45,101.10 314.70,101.10 314.95,101.10 315.20,101.10 315.45,101.10 315.70,101.10 315.95,101.10 316.20,101.10 316.45,101.10 316.70,101.10 316.95,101.10 317.20,101.10 317.45,101.10 317.70,101.10 317.95,101.10 318.20,101.10 318.45,101.10 318.70,101.10 318.95,101.10 319.20,101.10 319.45,101.10 319.70,101.10 319.95,101.10 320.20,101.10 320.45,101.10 320.70,101.10 320.95,101.10 321.20,101.10 321.45,101.10 321.70,101.10 321.95,101.10 322.20,101.10 322.45,101.10 322.70,101.10 322.95,101.10 323.20,101.10 323.45,101.10 323.70,101.10 323.95,101.10 324.20,101.10 324.45,101.10 324.70,101.10 324.95,101.10 325.20,101.10 325.45,101.10 325.70,101.10 325.95,101.10 326.20,101.10 326.45,101.10 326.70,101.10 326.95,101.10 327.20,101.10 327.45,101.10 327.70,101.10 327.95,101.10 328.20,101.10 328.45,101.10 328.70,101.10 328.95,101.10 329.20,101.10 329.45,101.10 329.70,101.10 329.95,101.10 330.20,101.10 330.45,101.10 330.70,101.10 330.95,101.10 331.20,101.10 331.45,101.10 331.70,101.10 331.95,101.10 332.20,101.10 332.45,101.10 332.70,101.10 332.95,101.10 333.20,101.10 333.45,101.10 333.70,101.10 333.95,101.10 334.20,101.10 334.45,101.10 334.70,101.10 334.95,101.10 335.20,101.10 335.45,101.10 335.70,101.10 335.95,101.10 336.20,101.10 336.45,101.10" fill="none" stroke="#2a2a2a" stroke-width="0.85" stroke-linejoin="round"/>
<line x1="300.60" y1="88.80" x2="309.20" y2="88.80" stroke="#1a1a1a" stroke-width="1.1" stroke-linecap="butt"/>
<line x1="300.60" y1="87.90" x2="300.60" y2="89.70" stroke="#1a1a1a" stroke-width="0.8" stroke-linecap="butt"/>
<line x1="309.20" y1="87.90" x2="309.20" y2="89.70" stroke="#1a1a1a" stroke-width="0.8" stroke-linecap="butt"/>
<line x1="282.90" y1="63.87" x2="286.50" y2="63.87" stroke="#2a2a2a" stroke-width="0.95" stroke-linecap="butt"/>
<line x1="282.90" y1="75.99" x2="286.50" y2="75.99" stroke="#2a2a2a" stroke-width="0.95" stroke-linecap="butt"/>
<line x1="282.90" y1="89.09" x2="286.50" y2="89.09" stroke="#2a2a2a" stroke-width="0.95" stroke-linecap="butt"/>
<line x1="282.90" y1="101.21" x2="286.50" y2="101.21" stroke="#2a2a2a" stroke-width="0.95" stroke-linecap="butt"/>
<line x1="289.37" y1="104.90" x2="290.37" y2="104.90" stroke="#2a2a2a" stroke-width="1.35" stroke-linecap="butt"/>
<line x1="296.17" y1="104.90" x2="299.57" y2="104.90" stroke="#2a2a2a" stroke-width="1.35" stroke-linecap="butt"/>
<line x1="304.80" y1="104.90" x2="308.40" y2="104.90" stroke="#2a2a2a" stroke-width="1.35" stroke-linecap="butt"/>
<line x1="314.02" y1="104.90" x2="317.62" y2="104.90" stroke="#2a2a2a" stroke-width="1.35" stroke-linecap="butt"/>
<line x1="323.47" y1="104.90" x2="327.07" y2="104.90" stroke="#2a2a2a" stroke-width="1.35" stroke-linecap="butt"/>
<line x1="332.93" y1="104.90" x2="336.53" y2="104.90" stroke="#2a2a2a" stroke-width="1.35" stroke-linecap="butt"/>
<rect x="347.40" y="62.50" width="48.00" height="39.10" fill="#fff" stroke="#909090" stroke-width="0.8"/>
<polyline points="348.20,101.10 348.45,101.10 348.70,101.10 348.95,101.10 349.20,101.10 349.45,101.10 349.70,101.10 349.95,101.10 350.20,101.10 350.45,101.10 350.70,101.10 350.95,101.10 351.20,101.10 351.45,101.10 351.70,101.10 351.95,101.10 352.20,101.10 352.45,101.10 352.70,101.10 352.95,101.10 353.20,101.10 353.45,101.10 353.70,101.10 353.95,101.10 354.20,101.10 354.45,101.10 354.70,101.10 354.95,101.10 355.20,101.10 355.45,101.10 355.70,101.10 355.95,101.10 356.20,101.10 356.45,101.10 356.70,101.10 356.95,101.10 357.20,101.10 357.45,101.10 357.70,101.10 357.95,101.10 358.20,101.10 358.45,101.10 358.70,101.10 358.95,101.10 359.20,101.10 359.45,101.10 359.70,101.10 359.95,101.10 360.20,101.10 360.45,101.10 360.70,101.10 360.95,101.10 361.20,101.10 361.45,101.10 361.70,101.10 361.95,101.10 362.20,101.10 362.45,101.10 362.70,101.10 362.95,101.10 363.20,101.10 363.45,101.10 363.70,101.10 363.95,101.10 364.20,101.10 364.45,101.10 364.70,101.10 364.95,101.10 365.20,101.10 365.45,101.10 365.70,101.10 365.95,101.10 366.20,101.10 366.45,101.10 366.70,101.10 366.95,101.10 367.20,101.10 367.45,101.10 367.70,101.10 367.95,101.10 368.20,101.10 368.45,101.10 368.70,101.10 368.95,101.10 369.20,101.10 369.45,101.10 369.70,101.10 369.95,101.09 370.20,101.08 370.45,101.05 370.70,100.97 370.95,100.79 371.20,100.42 371.45,99.68 371.70,98.37 371.95,96.20 372.20,92.95 372.45,88.49 372.70,83.00 372.95,76.95 373.20,71.19 373.45,66.68 373.70,64.32 373.95,64.59 374.20,67.44 374.45,72.27 374.70,78.17 374.95,84.16 375.20,89.48 375.45,93.69 375.70,96.71 375.95,98.69 376.20,99.87 376.45,100.52 376.70,100.84 376.95,100.99 377.20,101.06 377.45,101.09 377.70,101.10 377.95,101.10 378.20,101.10 378.45,101.10 378.70,101.10 378.95,101.10 379.20,101.10 379.45,101.10 379.70,101.10 379.95,101.10 380.20,101.10 380.45,101.10 380.70,101.10 380.95,101.10 381.20,101.10 381.45,101.10 381.70,101.10 381.95,101.10 382.20,101.10 382.45,101.10 382.70,101.10 382.95,101.10 383.20,101.10 383.45,101.10 383.70,101.10 383.95,101.10 384.20,101.10 384.45,101.10 384.70,101.10 384.95,101.10 385.20,101.10 385.45,101.10 385.70,101.10 385.95,101.10 386.20,101.10 386.45,101.10 386.70,101.10 386.95,101.10 387.20,101.10 387.45,101.10 387.70,101.10 387.95,101.10 388.20,101.10 388.45,101.10 388.70,101.10 388.95,101.10 389.20,101.10 389.45,101.10 389.70,101.10 389.95,101.10 390.20,101.10 390.45,101.10 390.70,101.10 390.95,101.10 391.20,101.10 391.45,101.10 391.70,101.10 391.95,101.10 392.20,101.10 392.45,101.10 392.70,101.10 392.95,101.10 393.20,101.10 393.45,101.10 393.70,101.10 393.95,101.10 394.20,101.10 394.45,101.10" fill="none" stroke="#2a2a2a" stroke-width="0.85" stroke-linejoin="round"/>
<line x1="342.00" y1="66.61" x2="344.60" y2="66.61" stroke="#2a2a2a" stroke-width="0.95" stroke-linecap="butt"/>
<line x1="342.00" y1="78.34" x2="344.60" y2="78.34" stroke="#2a2a2a" stroke-width="0.95" stroke-linecap="butt"/>
<line x1="342.00" y1="90.07" x2="344.60" y2="90.07" stroke="#2a2a2a" stroke-width="0.95" stroke-linecap="butt"/>
<line x1="342.00" y1="101.21" x2="344.60" y2="101.21" stroke="#2a2a2a" stroke-width="0.95" stroke-linecap="butt"/>
<line x1="350.88" y1="104.90" x2="352.08" y2="104.90" stroke="#2a2a2a" stroke-width="1.35" stroke-linecap="butt"/>
<line x1="357.10" y1="104.90" x2="359.30" y2="104.90" stroke="#2a2a2a" stroke-width="1.35" stroke-linecap="butt"/>
<line x1="368.52" y1="104.90" x2="370.92" y2="104.90" stroke="#2a2a2a" stroke-width="1.35" stroke-linecap="butt"/>
<line x1="379.80" y1="104.90" x2="382.20" y2="104.90" stroke="#2a2a2a" stroke-width="1.35" stroke-linecap="butt"/>
<line x1="390.84" y1="104.90" x2="393.24" y2="104.90" stroke="#2a2a2a" stroke-width="1.35" stroke-linecap="butt"/>
<rect x="411.20" y="62.50" width="49.20" height="39.10" fill="#fff" stroke="#909090" stroke-width="0.8"/>
<polyline points="412.00,101.10 412.25,101.10 412.50,101.10 412.75,101.10 413.00,101.10 413.25,101.10 413.50,101.10 413.75,101.10 414.00,101.10 414.25,101.10 414.50,101.10 414.75,101.10 415.00,101.10 415.25,101.10 415.50,101.10 415.75,101.10 416.00,101.10 416.25,101.10 416.50,101.10 416.75,101.10 417.00,101.10 417.25,101.10 417.50,101.10 417.75,101.10 418.00,101.10 418.25,101.10 418.50,101.10 418.75,101.10 419.00,101.10 419.25,101.10 419.50,101.10 419.75,101.10 420.00,101.10 420.25,101.10 420.50,101.10 420.75,101.10 421.00,101.10 421.25,101.10 421.50,101.09 421.75,101.08 422.00,101.06 422.25,101.03 422.50,100.98 422.75,100.88 423.00,100.73 423.25,100.48 423.50,100.11 423.75,99.54 424.00,98.73 424.25,97.61 424.50,96.09 424.75,94.13 425.00,91.70 425.25,88.77 425.50,85.42 425.75,81.73 426.00,77.88 426.25,74.08 426.50,70.58 426.75,67.63 427.00,65.46 427.25,64.27 427.50,64.14 427.75,64.93 428.00,66.55 428.25,68.88 428.50,71.77 428.75,75.03 429.00,78.46 429.25,81.89 429.50,85.16 429.75,88.14 430.00,90.77 430.25,92.99 430.50,94.81 430.75,96.24 431.00,97.33 431.25,98.13 431.50,98.70 431.75,99.08 432.00,99.34 432.25,99.50 432.50,99.60 432.75,99.67 433.00,99.73 433.25,99.78 433.50,99.84 433.75,99.90 434.00,99.98 434.25,100.06 434.50,100.16 434.75,100.25 435.00,100.35 435.25,100.45 435.50,100.54 435.75,100.63 436.00,100.71 436.25,100.78 436.50,100.84 436.75,100.90 437.00,100.94 437.25,100.98 437.50,101.01 437.75,101.03 438.00,101.05 438.25,101.06 438.50,101.06 438.75,101.05 439.00,101.03 439.25,100.99 439.50,100.93 439.75,100.84 440.00,100.71 440.25,100.55 440.50,100.36 440.75,100.16 441.00,99.96 441.25,99.79 441.50,99.67 441.75,99.62 442.00,99.64 442.25,99.74 442.50,99.89 442.75,100.08 443.00,100.28 443.25,100.48 443.50,100.65 443.75,100.79 444.00,100.90 444.25,100.98 444.50,101.03 444.75,101.06 445.00,101.08 445.25,101.09 445.50,101.09 445.75,101.10 446.00,101.10 446.25,101.10 446.50,101.10 446.75,101.10 447.00,101.10 447.25,101.10 447.50,101.10 447.75,101.10 448.00,101.10 448.25,101.10 448.50,101.10 448.75,101.10 449.00,101.10 449.25,101.10 449.50,101.10 449.75,101.10 450.00,101.10 450.25,101.10 450.50,101.10 450.75,101.10 451.00,101.10 451.25,101.10 451.50,101.10 451.75,101.10 452.00,101.10 452.25,101.10 452.50,101.10 452.75,101.10 453.00,101.10 453.25,101.10 453.50,101.10 453.75,101.10 454.00,101.10 454.25,101.10 454.50,101.10 454.75,101.10 455.00,101.10 455.25,101.10 455.50,101.10 455.75,101.10 456.00,101.10 456.25,101.10 456.50,101.10 456.75,101.10 457.00,101.10 457.25,101.10 457.50,101.10 457.75,101.10 458.00,101.10 458.25,101.10 458.50,101.10 458.75,101.10 459.00,101.10 459.25,101.10 459.50,101.10" fill="none" stroke="#2a2a2a" stroke-width="0.85" stroke-linejoin="round"/>
<line x1="422.60" y1="88.80" x2="431.90" y2="88.80" stroke="#1a1a1a" stroke-width="1.1" stroke-linecap="butt"/>
<line x1="422.60" y1="87.90" x2="422.60" y2="89.70" stroke="#1a1a1a" stroke-width="0.8" stroke-linecap="butt"/>
<line x1="431.90" y1="87.90" x2="431.90" y2="89.70" stroke="#1a1a1a" stroke-width="0.8" stroke-linecap="butt"/>
<line x1="405.60" y1="68.56" x2="409.00" y2="68.56" stroke="#2a2a2a" stroke-width="0.95" stroke-linecap="butt"/>
<line x1="405.60" y1="76.97" x2="409.00" y2="76.97" stroke="#2a2a2a" stroke-width="0.95" stroke-linecap="butt"/>
<line x1="405.60" y1="85.18" x2="409.00" y2="85.18" stroke="#2a2a2a" stroke-width="0.95" stroke-linecap="butt"/>
<line x1="405.60" y1="93.39" x2="409.00" y2="93.39" stroke="#2a2a2a" stroke-width="0.95" stroke-linecap="butt"/>
<line x1="405.60" y1="101.01" x2="409.00" y2="101.01" stroke="#2a2a2a" stroke-width="0.95" stroke-linecap="butt"/>
<line x1="411.68" y1="104.90" x2="412.68" y2="104.90" stroke="#2a2a2a" stroke-width="1.35" stroke-linecap="butt"/>
<line x1="418.60" y1="104.90" x2="422.00" y2="104.90" stroke="#2a2a2a" stroke-width="1.35" stroke-linecap="butt"/>
<line x1="427.36" y1="104.90" x2="430.96" y2="104.90" stroke="#2a2a2a" stroke-width="1.35" stroke-linecap="butt"/>
<line x1="436.71" y1="104.90" x2="440.31" y2="104.90" stroke="#2a2a2a" stroke-width="1.35" stroke-linecap="butt"/>
<line x1="446.30" y1="104.90" x2="449.90" y2="104.90" stroke="#2a2a2a" stroke-width="1.35" stroke-linecap="butt"/>
<line x1="455.89" y1="104.90" x2="459.49" y2="104.90" stroke="#2a2a2a" stroke-width="1.35" stroke-linecap="butt"/>
<rect x="471.20" y="62.50" width="48.20" height="39.10" fill="#fff" stroke="#909090" stroke-width="0.8"/>
<polyline points="472.00,101.10 472.25,101.10 472.50,101.10 472.75,101.10 473.00,101.10 473.25,101.10 473.50,101.10 473.75,101.10 474.00,101.10 474.25,101.10 474.50,101.10 474.75,101.10 475.00,101.10 475.25,101.10 475.50,101.10 475.75,101.10 476.00,101.10 476.25,101.10 476.50,101.10 476.75,101.10 477.00,101.10 477.25,101.10 477.50,101.10 477.75,101.10 478.00,101.10 478.25,101.10 478.50,101.10 478.75,101.10 479.00,101.10 479.25,101.10 479.50,101.10 479.75,101.10 480.00,101.10 480.25,101.10 480.50,101.10 480.75,101.10 481.00,101.10 481.25,101.10 481.50,101.10 481.75,101.10 482.00,101.10 482.25,101.10 482.50,101.10 482.75,101.10 483.00,101.10 483.25,101.10 483.50,101.10 483.75,101.10 484.00,101.10 484.25,101.10 484.50,101.10 484.75,101.10 485.00,101.10 485.25,101.10 485.50,101.10 485.75,101.10 486.00,101.10 486.25,101.10 486.50,101.10 486.75,101.10 487.00,101.10 487.25,101.10 487.50,101.10 487.75,101.10 488.00,101.10 488.25,101.10 488.50,101.10 488.75,101.10 489.00,101.10 489.25,101.10 489.50,101.10 489.75,101.10 490.00,101.10 490.25,101.10 490.50,101.10 490.75,101.10 491.00,101.10 491.25,101.10 491.50,101.10 491.75,101.10 492.00,101.10 492.25,101.10 492.50,101.10 492.75,101.10 493.00,101.10 493.25,101.10 493.50,101.09 493.75,101.08 494.00,101.04 494.25,100.95 494.50,100.74 494.75,100.31 495.00,99.47 495.25,98.01 495.50,95.64 495.75,92.15 496.00,87.47 496.25,81.81 496.50,75.75 496.75,70.15 497.00,66.02 497.25,64.15 497.50,64.96 497.75,68.27 498.00,73.40 498.25,79.39 498.50,85.30 498.75,90.41 499.00,94.39 499.25,97.19 499.50,98.98 499.75,100.03 500.00,100.60 500.25,100.88 500.50,101.01 500.75,101.07 501.00,101.09 501.25,101.10 501.50,101.10 501.75,101.10 502.00,101.10 502.25,101.10 502.50,101.10 502.75,101.10 503.00,101.10 503.25,101.10 503.50,101.10 503.75,101.10 504.00,101.10 504.25,101.10 504.50,101.10 504.75,101.10 505.00,101.10 505.25,101.10 505.50,101.10 505.75,101.10 506.00,101.10 506.25,101.10 506.50,101.10 506.75,101.10 507.00,101.10 507.25,101.10 507.50,101.10 507.75,101.10 508.00,101.10 508.25,101.10 508.50,101.10 508.75,101.10 509.00,101.10 509.25,101.10 509.50,101.10 509.75,101.10 510.00,101.10 510.25,101.10 510.50,101.10 510.75,101.10 511.00,101.10 511.25,101.10 511.50,101.10 511.75,101.10 512.00,101.10 512.25,101.10 512.50,101.10 512.75,101.10 513.00,101.10 513.25,101.10 513.50,101.10 513.75,101.10 514.00,101.10 514.25,101.10 514.50,101.10 514.75,101.10 515.00,101.10 515.25,101.10 515.50,101.10 515.75,101.10 516.00,101.10 516.25,101.10 516.50,101.10 516.75,101.10 517.00,101.10 517.25,101.10 517.50,101.10 517.75,101.10 518.00,101.10 518.25,101.10 518.50,101.10" fill="none" stroke="#2a2a2a" stroke-width="0.85" stroke-linejoin="round"/>
<line x1="465.80" y1="66.61" x2="468.40" y2="66.61" stroke="#2a2a2a" stroke-width="0.95" stroke-linecap="butt"/>
<line x1="465.80" y1="78.34" x2="468.40" y2="78.34" stroke="#2a2a2a" stroke-width="0.95" stroke-linecap="butt"/>
<line x1="465.80" y1="90.07" x2="468.40" y2="90.07" stroke="#2a2a2a" stroke-width="0.95" stroke-linecap="butt"/>
<line x1="465.80" y1="101.21" x2="468.40" y2="101.21" stroke="#2a2a2a" stroke-width="0.95" stroke-linecap="butt"/>
<line x1="474.70" y1="104.90" x2="475.90" y2="104.90" stroke="#2a2a2a" stroke-width="1.35" stroke-linecap="butt"/>
<line x1="480.94" y1="104.90" x2="483.14" y2="104.90" stroke="#2a2a2a" stroke-width="1.35" stroke-linecap="butt"/>
<line x1="492.41" y1="104.90" x2="494.81" y2="104.90" stroke="#2a2a2a" stroke-width="1.35" stroke-linecap="butt"/>
<line x1="503.74" y1="104.90" x2="506.14" y2="104.90" stroke="#2a2a2a" stroke-width="1.35" stroke-linecap="butt"/>
<line x1="514.83" y1="104.90" x2="517.23" y2="104.90" stroke="#2a2a2a" stroke-width="1.35" stroke-linecap="butt"/>
<line x1="317.70" y1="83.30" x2="352.40" y2="83.30" stroke="#000" stroke-width="1.75" stroke-linecap="butt"/>
<path d="M347.00,79.40 L353.60,83.30 L347.00,87.20" fill="none" stroke="#000" stroke-width="1.7" stroke-linejoin="miter"/>
<line x1="441.80" y1="83.30" x2="477.00" y2="83.30" stroke="#000" stroke-width="1.75" stroke-linecap="butt"/>
<path d="M471.60,79.40 L478.20,83.30 L471.60,87.20" fill="none" stroke="#000" stroke-width="1.7" stroke-linejoin="miter"/>
<text x="357.50" y="35.40" font-size="8.75" text-anchor="start" font-weight="bold" stroke="#000" stroke-width="0.4" >MFI 2354</text>
<text x="480.80" y="35.40" font-size="8.75" text-anchor="start" font-weight="bold" stroke="#000" stroke-width="0.4" >MFI 2039</text>
<text x="357.60" y="86.50" font-size="8.75" text-anchor="start" font-weight="bold" stroke="#000" stroke-width="0.4" >MFI 2307</text>
<text x="480.60" y="86.50" font-size="8.75" text-anchor="start" font-weight="bold" stroke="#000" stroke-width="0.4" >MFI 1782</text>
<text x="317.00" y="115.00" font-size="8.4" text-anchor="middle" font-weight="bold" stroke="#000" stroke-width="0.4" >7-AAD</text>
<text x="370.00" y="115.00" font-size="8.4" text-anchor="middle" font-weight="bold" stroke="#000" stroke-width="0.4" >PNA-FITC</text>
<text x="444.50" y="115.00" font-size="8.4" text-anchor="middle" font-weight="bold" stroke="#000" stroke-width="0.4" >7-AAD</text>
<text x="495.70" y="115.00" font-size="8.4" text-anchor="middle" font-weight="bold" stroke="#000" stroke-width="0.4" >PNA-FITC</text>
<text x="261.30" y="147.60" font-size="11.5" text-anchor="start" font-weight="bold" stroke="#000" stroke-width="0.4" >E</text>
<line x1="300.30" y1="150.70" x2="300.30" y2="246.10" stroke="#000" stroke-width="1.8" stroke-linecap="butt"/>
<line x1="295.30" y1="245.20" x2="300.30" y2="245.20" stroke="#000" stroke-width="1.6" stroke-linecap="butt"/>
<text x="294.20" y="248.15" font-size="8.2" text-anchor="end" font-weight="bold" stroke="#000" stroke-width="0.4" >0</text>
<line x1="295.30" y1="214.00" x2="300.30" y2="214.00" stroke="#000" stroke-width="1.6" stroke-linecap="butt"/>
<text x="294.20" y="216.95" font-size="8.2" text-anchor="end" font-weight="bold" stroke="#000" stroke-width="0.4" >1000</text>
<line x1="295.30" y1="182.80" x2="300.30" y2="182.80" stroke="#000" stroke-width="1.6" stroke-linecap="butt"/>
<text x="294.20" y="185.75" font-size="8.2" text-anchor="end" font-weight="bold" stroke="#000" stroke-width="0.4" >2000</text>
<line x1="295.30" y1="151.60" x2="300.30" y2="151.60" stroke="#000" stroke-width="1.6" stroke-linecap="butt"/>
<text x="294.20" y="154.55" font-size="8.2" text-anchor="end" font-weight="bold" stroke="#000" stroke-width="0.4" >3000</text>
<line x1="299.40" y1="245.25" x2="520.00" y2="245.25" stroke="#000" stroke-width="1.7" stroke-linecap="butt"/>
<text transform="translate(274.30,199.80) rotate(-90)" font-size="9.0" text-anchor="middle" font-weight="bold" stroke="#000" stroke-width="0.4">Relative MFI</text>
<rect x="304.90" y="144.20" width="15.60" height="4.30" fill="#fff" stroke="#000" stroke-width="2.3"/>
<rect x="304.90" y="153.00" width="15.60" height="4.20" fill="#e4e4e4" stroke="#000" stroke-width="2.3"/>
<text x="330.70" y="148.60" font-size="8.4" text-anchor="start" font-weight="bold" stroke="#000" stroke-width="0.4" >CTL</text>
<text x="330.70" y="158.15" font-size="8.4" text-anchor="start" font-weight="bold" stroke="#000" stroke-width="0.4" >TBI</text>
<line x1="336.75" y1="168.40" x2="336.75" y2="165.00" stroke="#000" stroke-width="1.6" stroke-linecap="butt"/>
<line x1="327.25" y1="165.00" x2="346.25" y2="165.00" stroke="#000" stroke-width="1.6" stroke-linecap="butt"/>
<rect x="318.50" y="168.40" width="36.50" height="76.80" fill="#fff" stroke="#000" stroke-width="2.2"/>
<line x1="372.90" y1="171.60" x2="372.90" y2="168.30" stroke="#000" stroke-width="1.6" stroke-linecap="butt"/>
<line x1="363.40" y1="168.30" x2="382.40" y2="168.30" stroke="#000" stroke-width="1.6" stroke-linecap="butt"/>
<rect x="355.00" y="171.60" width="35.80" height="73.60" fill="#d2d2d2" stroke="#000" stroke-width="2.2"/>
<line x1="446.45" y1="179.50" x2="446.45" y2="173.90" stroke="#000" stroke-width="1.6" stroke-linecap="butt"/>
<line x1="436.95" y1="173.90" x2="455.95" y2="173.90" stroke="#000" stroke-width="1.6" stroke-linecap="butt"/>
<rect x="428.00" y="179.50" width="36.90" height="65.70" fill="#fff" stroke="#000" stroke-width="2.2"/>
<line x1="483.05" y1="186.90" x2="483.05" y2="184.70" stroke="#000" stroke-width="1.6" stroke-linecap="butt"/>
<line x1="473.55" y1="184.70" x2="492.55" y2="184.70" stroke="#000" stroke-width="1.6" stroke-linecap="butt"/>
<rect x="464.90" y="186.90" width="36.30" height="58.30" fill="#d2d2d2" stroke="#000" stroke-width="2.2"/>
<text x="353.20" y="258.70" font-size="8.0" text-anchor="middle" font-weight="bold" stroke="#000" stroke-width="0.4" >T cells</text>
<text x="464.30" y="258.70" font-size="8.0" text-anchor="middle" font-weight="bold" stroke="#000" stroke-width="0.4" >M cells</text>
<text x="261.30" y="287.00" font-size="11.5" text-anchor="start" font-weight="bold" stroke="#000" stroke-width="0.4" >F</text>
<line x1="300.60" y1="283.60" x2="300.60" y2="323.20" stroke="#000" stroke-width="2.0" stroke-linecap="butt"/>
<line x1="295.60" y1="284.60" x2="300.60" y2="284.60" stroke="#000" stroke-width="2.0" stroke-linecap="butt"/>
<text x="294.20" y="287.55" font-size="8.3" text-anchor="end" font-weight="bold" stroke="#000" stroke-width="0.4" >25</text>
<line x1="295.60" y1="299.40" x2="300.60" y2="299.40" stroke="#000" stroke-width="2.0" stroke-linecap="butt"/>
<text x="294.20" y="302.35" font-size="8.3" text-anchor="end" font-weight="bold" stroke="#000" stroke-width="0.4" >20</text>
<line x1="295.60" y1="314.10" x2="300.60" y2="314.10" stroke="#000" stroke-width="2.0" stroke-linecap="butt"/>
<text x="294.20" y="317.05" font-size="8.3" text-anchor="end" font-weight="bold" stroke="#000" stroke-width="0.4" >15</text>
<line x1="298.30" y1="322.20" x2="303.20" y2="322.20" stroke="#000" stroke-width="1.8" stroke-linecap="butt"/>
<line x1="300.60" y1="332.72" x2="300.60" y2="377.60" stroke="#000" stroke-width="2.0" stroke-linecap="butt"/>
<line x1="295.60" y1="376.60" x2="300.60" y2="376.60" stroke="#000" stroke-width="2.0" stroke-linecap="butt"/>
<text x="294.20" y="379.55" font-size="8.3" text-anchor="end" font-weight="bold" stroke="#000" stroke-width="0.4" >0</text>
<line x1="295.60" y1="365.88" x2="300.60" y2="365.88" stroke="#000" stroke-width="2.0" stroke-linecap="butt"/>
<text x="294.20" y="368.83" font-size="8.3" text-anchor="end" font-weight="bold" stroke="#000" stroke-width="0.4" >1</text>
<line x1="295.60" y1="355.16" x2="300.60" y2="355.16" stroke="#000" stroke-width="2.0" stroke-linecap="butt"/>
<text x="294.20" y="358.11" font-size="8.3" text-anchor="end" font-weight="bold" stroke="#000" stroke-width="0.4" >2</text>
<line x1="295.60" y1="344.44" x2="300.60" y2="344.44" stroke="#000" stroke-width="2.0" stroke-linecap="butt"/>
<text x="294.20" y="347.39" font-size="8.3" text-anchor="end" font-weight="bold" stroke="#000" stroke-width="0.4" >3</text>
<line x1="295.60" y1="333.72" x2="300.60" y2="333.72" stroke="#000" stroke-width="2.0" stroke-linecap="butt"/>
<text x="294.20" y="336.67" font-size="8.3" text-anchor="end" font-weight="bold" stroke="#000" stroke-width="0.4" >4</text>
<line x1="299.60" y1="376.60" x2="514.50" y2="376.60" stroke="#000" stroke-width="2.2" stroke-linecap="butt"/>
<text transform="translate(278.60,331.40) rotate(-90)" font-size="9.3" text-anchor="middle" font-weight="bold" stroke="#000" stroke-width="0.4">Telomere length</text>
<rect x="303.40" y="285.30" width="16.80" height="4.60" fill="#fff" stroke="#000" stroke-width="2.3"/>
<rect x="303.40" y="294.10" width="16.80" height="4.70" fill="#e4e4e4" stroke="#000" stroke-width="2.3"/>
<text x="329.70" y="290.90" font-size="8.4" text-anchor="start" font-weight="bold" stroke="#000" stroke-width="0.4" >CTL</text>
<text x="329.70" y="299.75" font-size="8.4" text-anchor="start" font-weight="bold" stroke="#000" stroke-width="0.4" >TBI</text>
<line x1="317.95" y1="351.70" x2="317.95" y2="342.20" stroke="#000" stroke-width="2.0" stroke-linecap="butt"/>
<line x1="313.25" y1="342.20" x2="322.65" y2="342.20" stroke="#000" stroke-width="2.0" stroke-linecap="butt"/>
<rect x="308.40" y="351.70" width="19.10" height="24.90" fill="#fff" stroke="#000" stroke-width="1.3"/>
<line x1="337.00" y1="353.70" x2="337.00" y2="347.20" stroke="#000" stroke-width="2.0" stroke-linecap="butt"/>
<line x1="332.30" y1="347.20" x2="341.70" y2="347.20" stroke="#000" stroke-width="2.0" stroke-linecap="butt"/>
<rect x="327.50" y="353.70" width="19.00" height="22.90" fill="#d2d2d2" stroke="#000" stroke-width="1.3"/>
<line x1="372.05" y1="356.70" x2="372.05" y2="346.10" stroke="#000" stroke-width="2.0" stroke-linecap="butt"/>
<line x1="367.25" y1="346.10" x2="376.85" y2="346.10" stroke="#000" stroke-width="2.0" stroke-linecap="butt"/>
<rect x="362.80" y="356.70" width="18.50" height="19.90" fill="#fff" stroke="#000" stroke-width="1.3"/>
<line x1="390.75" y1="360.40" x2="390.75" y2="355.50" stroke="#000" stroke-width="2.0" stroke-linecap="butt"/>
<line x1="386.05" y1="355.50" x2="395.45" y2="355.50" stroke="#000" stroke-width="2.0" stroke-linecap="butt"/>
<rect x="381.30" y="360.40" width="18.90" height="16.20" fill="#d2d2d2" stroke="#000" stroke-width="1.3"/>
<line x1="426.85" y1="318.70" x2="426.85" y2="307.00" stroke="#000" stroke-width="1.9" stroke-linecap="butt"/>
<line x1="421.95" y1="307.00" x2="431.75" y2="307.00" stroke="#000" stroke-width="1.9" stroke-linecap="butt"/>
<rect x="417.80" y="318.70" width="18.10" height="3.70" fill="#fff"/>
<path d="M417.80,322.4 L417.80,318.70 L435.90,318.70 L435.90,322.4" fill="none" stroke="#000" stroke-width="2.2"/>
<rect x="417.80" y="334.2" width="18.10" height="42.40" fill="#fff"/>
<line x1="417.80" y1="334.20" x2="417.80" y2="376.60" stroke="#000" stroke-width="2.2" stroke-linecap="butt"/>
<line x1="435.90" y1="334.20" x2="435.90" y2="376.60" stroke="#000" stroke-width="2.2" stroke-linecap="butt"/>
<line x1="444.80" y1="311.60" x2="444.80" y2="294.30" stroke="#000" stroke-width="1.9" stroke-linecap="butt"/>
<line x1="439.90" y1="294.30" x2="449.70" y2="294.30" stroke="#000" stroke-width="1.9" stroke-linecap="butt"/>
<rect x="435.90" y="311.60" width="17.80" height="10.80" fill="#d2d2d2"/>
<path d="M435.90,322.4 L435.90,311.60 L453.70,311.60 L453.70,322.4" fill="none" stroke="#000" stroke-width="2.2"/>
<rect x="435.90" y="334.2" width="17.80" height="42.40" fill="#d2d2d2"/>
<line x1="435.90" y1="334.20" x2="435.90" y2="376.60" stroke="#000" stroke-width="2.2" stroke-linecap="butt"/>
<line x1="453.70" y1="334.20" x2="453.70" y2="376.60" stroke="#000" stroke-width="2.2" stroke-linecap="butt"/>
<line x1="481.10" y1="317.90" x2="481.10" y2="302.80" stroke="#000" stroke-width="1.9" stroke-linecap="butt"/>
<line x1="476.20" y1="302.80" x2="486.00" y2="302.80" stroke="#000" stroke-width="1.9" stroke-linecap="butt"/>
<rect x="472.00" y="317.90" width="18.20" height="4.50" fill="#fff"/>
<path d="M472.00,322.4 L472.00,317.90 L490.20,317.90 L490.20,322.4" fill="none" stroke="#000" stroke-width="2.2"/>
<rect x="472.00" y="334.2" width="18.20" height="42.40" fill="#fff"/>
<line x1="472.00" y1="334.20" x2="472.00" y2="376.60" stroke="#000" stroke-width="2.2" stroke-linecap="butt"/>
<line x1="490.20" y1="334.20" x2="490.20" y2="376.60" stroke="#000" stroke-width="2.2" stroke-linecap="butt"/>
<line x1="499.50" y1="306.60" x2="499.50" y2="299.20" stroke="#000" stroke-width="1.9" stroke-linecap="butt"/>
<line x1="494.60" y1="299.20" x2="504.40" y2="299.20" stroke="#000" stroke-width="1.9" stroke-linecap="butt"/>
<rect x="490.20" y="306.60" width="18.60" height="15.80" fill="#d2d2d2"/>
<path d="M490.20,322.4 L490.20,306.60 L508.80,306.60 L508.80,322.4" fill="none" stroke="#000" stroke-width="2.2"/>
<rect x="490.20" y="334.2" width="18.60" height="42.40" fill="#d2d2d2"/>
<line x1="490.20" y1="334.20" x2="490.20" y2="376.60" stroke="#000" stroke-width="2.2" stroke-linecap="butt"/>
<line x1="508.80" y1="334.20" x2="508.80" y2="376.60" stroke="#000" stroke-width="2.2" stroke-linecap="butt"/>
<text x="327.70" y="389.50" font-size="8.0" text-anchor="middle" font-weight="bold" stroke="#000" stroke-width="0.4" >T cells</text>
<text x="382.00" y="389.50" font-size="8.0" text-anchor="middle" font-weight="bold" stroke="#000" stroke-width="0.4" >M cells</text>
<text x="436.40" y="389.50" font-size="8.0" text-anchor="middle" font-weight="bold" stroke="#000" stroke-width="0.4" >LSK</text>
<text x="490.60" y="389.50" font-size="8.0" text-anchor="middle" font-weight="bold" stroke="#000" stroke-width="0.4" >HSC</text>
</g>
</svg>
</body></html>
